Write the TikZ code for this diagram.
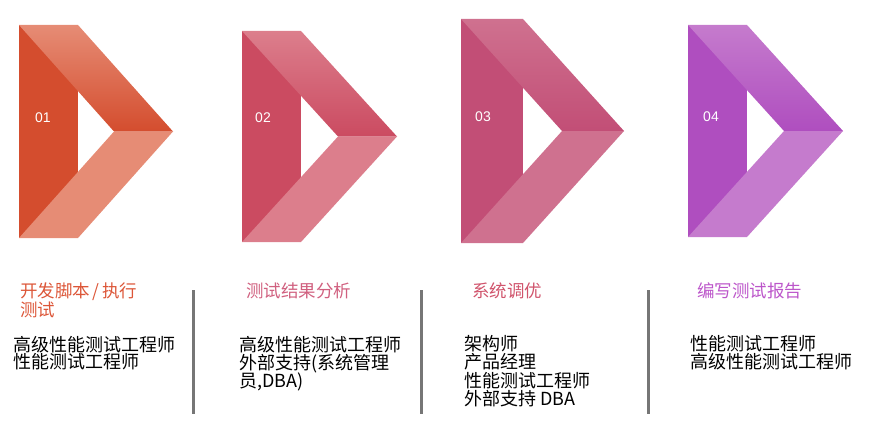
\documentclass[tikz,border=0pt]{standalone}
\usepackage{fontspec}
\setmainfont{Noto Sans CJK SC}
\newfontfamily\numfont{Liberation Sans}
\definecolor{dA}{HTML}{D44D2E}\definecolor{lA}{HTML}{E68C75}
\definecolor{dB}{HTML}{CB4B61}\definecolor{lB}{HTML}{DC7E8C}
\definecolor{dC}{HTML}{C24E76}\definecolor{lC}{HTML}{CF718F}
\definecolor{dD}{HTML}{AF4EBF}\definecolor{lD}{HTML}{C57BCD}
\definecolor{tA}{HTML}{DC5638}\definecolor{tB}{HTML}{D0607F}
\definecolor{tC}{HTML}{D0546C}\definecolor{tD}{HTML}{BC56CA}
\definecolor{sepgray}{HTML}{767676}
\newcommand\mlines[1]{\vtop{\lineskiplimit=-100pt\lineskip=0pt #1}}
% \chev{L}{T}{B}{X}{w}{dark}{light}
\newcommand\chev[7]{%
  \pgfmathsetmacro\cY{(#2+#3)/2}%
  \fill[#6] (#1,#2) -- (#1+#5,#2) -- (#1+#5,#3) -- (#1,#3) -- cycle;
  \shade[top color=#7, middle color=#7!80!#6, bottom color=#6]
    (#1,#2) -- (#1+#5,#2) -- (#4,\cY) -- (#4-#5,\cY) -- cycle;
  \fill[#7] (#4-#5,\cY) -- (#4,\cY) -- (#1+#5,#3) -- (#1,#3) -- cycle;
}
\tikzset{
  num/.style={text=white, font=\numfont\fontsize{14}{16}\selectfont, inner sep=0},
  ttl/.style={anchor=base west, inner sep=0, font=\fontsize{17.5}{19}\selectfont},
  body/.style={anchor=base west, inner sep=0, text=black, font=\fontsize{18}{18.3}\selectfont},
  sepline/.style={line width=3pt, draw=sepgray},
}
\begin{document}
\begin{tikzpicture}[x=1pt,y=-1pt]
\useasboundingbox (0,0) rectangle (874,436);
\chev{19}{25}{238}{173}{59}{dA}{lA}
\chev{242}{31}{242}{397}{59}{dB}{lB}
\chev{461}{19}{243}{624}{62}{dC}{lC}
\chev{688}{25}{237}{843}{59}{dD}{lD}
\node[num] (n1) at (43,118) {01};
\node[num] (n2) at (263,118) {02};
\node[num] (n3) at (483,117) {03};
\node[num] (n4) at (711,117) {04};
\node[ttl, text=tA] (t1) at (20,297.5) {\mlines{\hbox{开发脚本\kern2.5pt/\kern2.5pt执行}\hbox{测试}}};
\node[ttl, text=tB] (t2) at (246,297.5) {测试结果分析};
\node[ttl, text=tC] (t3) at (472,297.5) {系统调优};
\node[ttl, text=tD] (t4) at (697,297.5) {编写测试报告};
\node[body, font=\fontsize{18}{17}\selectfont] (b1) at (13,351) {\mlines{\hbox{高级性能测试工程师}\hbox{性能测试工程师}}};
\node[body] (b2) at (239,351) {\mlines{\hbox{高级性能测试工程师}\hbox{外部支持(系统管理}\hbox{员,DBA)}}};
\node[body] (b3) at (464,350.5) {\mlines{\hbox{架构师}\hbox{产品经理}\hbox{性能测试工程师}\hbox{外部支持 DBA}}};
\node[body] (b4) at (690,350) {\mlines{\hbox{性能测试工程师}\hbox{高级性能测试工程师}}};
\draw[sepline] (193,290) -- (193,414);
\draw[sepline] (421,290) -- (421,414);
\draw[sepline] (648,290) -- (648,414);
\end{tikzpicture}
\end{document}
